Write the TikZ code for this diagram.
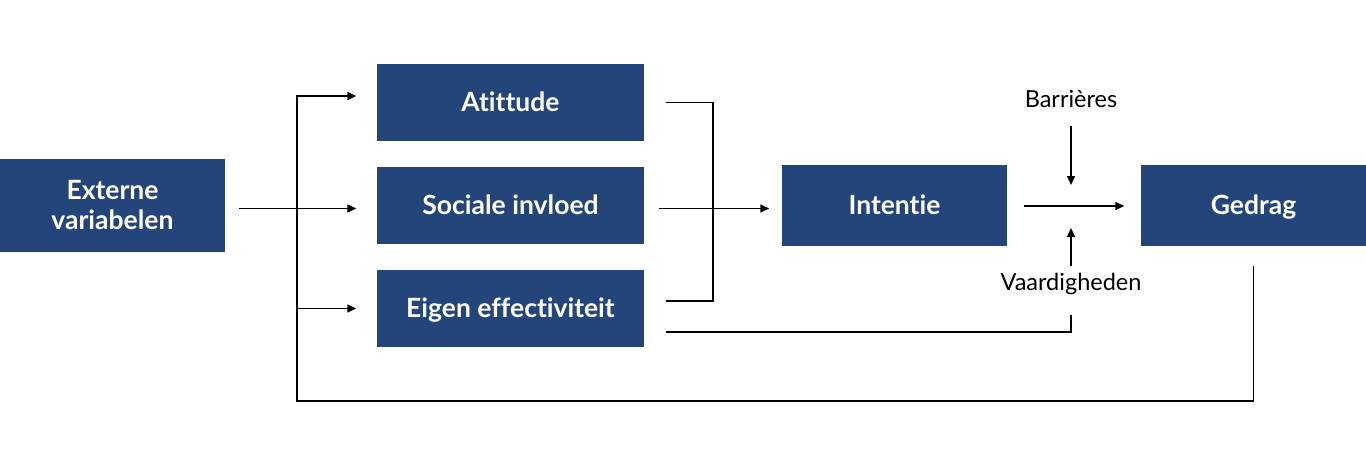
\documentclass[tikz,border=0pt]{standalone}
\usepackage{fontspec}
\setmainfont{Lato}[Ligatures={NoCommon}]
\usepackage{tikz}
\usetikzlibrary{positioning, arrows.meta}
\definecolor{boxblue}{HTML}{23457A}

\begin{document}
\begin{tikzpicture}[
		x=1pt, y=-1pt,
		>={Triangle[length=9pt, width=8pt]},
		line width=1.5pt,
		node distance=103pt,
		every node/.style={font=\fontsize{23.5}{28}\selectfont},
		box/.style={fill=boxblue, text=white, font=\fontsize{26.5}{30}\selectfont\bfseries,
			inner sep=0pt, align=center},
		factor/.style={box, minimum width=267pt, minimum height=77pt, text height=23pt, text depth=6pt},
		result/.style={factor, minimum width=225pt, minimum height=81pt}]

	\useasboundingbox (0,0) rectangle (1366,451);

	\node[box, minimum width=225pt, minimum height=93pt] (extern) at (112.5,205.5) {Externe\\variabelen};
	\node[factor] (attitude) at (510.5,102.5) {Atittude};
	\node[factor, below of=attitude] (sociaal) {Sociale invloed};
	\node[factor, below of=sociaal] (eigen) {Eigen effectiviteit};
	\node[result] (intentie) at (894.5,205.5) {Intentie};
	\node[result] (gedrag) at (1253.5,205.5) {Gedrag};
	\node (barriere) at (1071,99) {Barrières};
	\node (vaardig) at (1071,284) {Vaardigheden};

	\coordinate (split) at (297,208.5);
	\coordinate (join) at (713,208.5);
	\coordinate (mid) at (1071,206);

	% externe variabelen naar de drie factoren
	\draw[->, shorten <=13pt, shorten >=20pt] ([yshift=-3pt]extern.east) -- ([yshift=-3pt]sociaal.west);
	\draw[->, shorten >=20pt] (split) |- ([yshift=6.5pt]attitude.west);
	\draw[->, shorten >=20pt] (split) |- (eigen.west);

	% factoren naar intentie
	\draw ([xshift=21pt]attitude.east) -| (join) |- ([xshift=21pt, yshift=7.5pt]eigen.east);
	\draw[->, shorten <=14pt, shorten >=12pt] ([yshift=-3pt]sociaal.east) -- ([yshift=-3pt]intentie.west);

	% intentie naar gedrag
	\draw[->, shorten <=16pt, shorten >=16pt] (intentie.east |- mid) -- (gedrag.west |- mid);
	\draw[->, shorten <=14pt, shorten >=21pt] (barriere) -- (mid);
	\draw[->, shorten <=3pt, shorten >=22pt] (vaardig) -- (mid);
	\draw[shorten >=16pt] ([xshift=21pt, yshift=-23.5pt]eigen.east) -| (vaardig);

	% terugkoppeling
	\draw ([yshift=-19pt]gedrag.south) -- ++(0,135) -| (split);

\end{tikzpicture}
\end{document}
